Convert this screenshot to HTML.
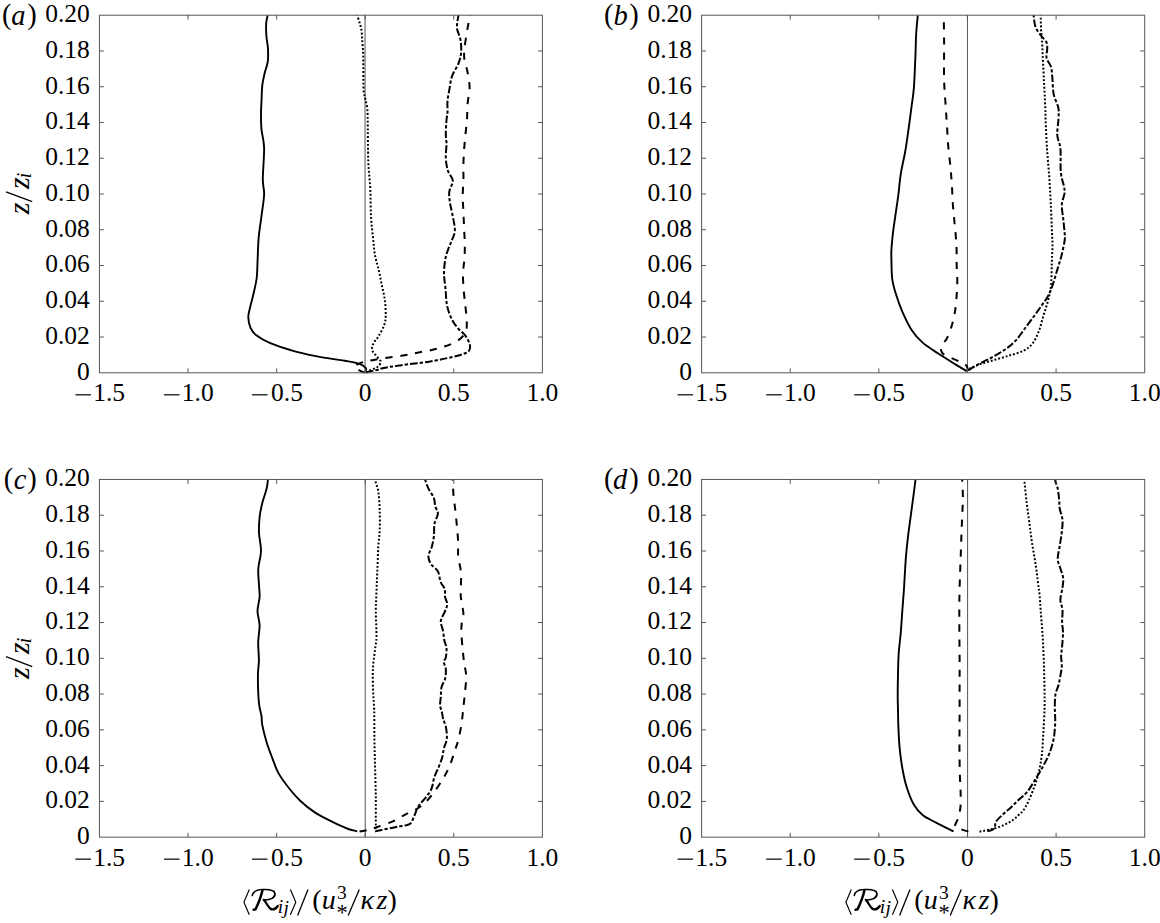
<!DOCTYPE html>
<html><head><meta charset="utf-8"><style>
html,body{margin:0;padding:0;background:#fff;}
svg{display:block;}
.t{font-family:"Liberation Serif",serif;font-size:25.5px;fill:#000;}
</style></head><body>
<svg width="1160" height="923" viewBox="0 0 1160 923">
<rect width="1160" height="923" fill="#fff"/>
<line x1="365.05" y1="15.20" x2="365.05" y2="372.80" stroke="#555" stroke-width="1"/>
<path d="M365.70,370.70 C365.70,370.23 366.73,369.05 365.70,367.90 C364.67,366.75 362.95,365.00 359.50,363.80 C356.05,362.60 348.48,361.35 345.00,360.70 C341.52,360.05 343.45,360.67 338.60,359.90 C333.75,359.13 323.48,357.62 315.90,356.10 C308.32,354.58 300.70,352.95 293.10,350.80 C285.50,348.65 276.37,345.73 270.30,343.20 C264.23,340.67 259.98,338.13 256.70,335.60 C253.42,333.07 252.00,331.03 250.60,328.00 C249.20,324.97 248.42,320.68 248.30,317.40 C248.18,314.12 249.00,312.37 249.90,308.30 C250.80,304.23 252.57,298.05 253.70,293.00 C254.83,287.95 256.07,283.03 256.70,278.00 C257.33,272.97 257.18,269.37 257.50,262.80 C257.82,256.23 257.95,246.30 258.60,238.60 C259.25,230.90 260.48,223.95 261.40,216.60 C262.32,209.25 263.87,200.72 264.10,194.50 C264.33,188.28 262.80,187.12 262.80,179.30 C262.80,171.48 264.32,155.88 264.10,147.60 C263.88,139.32 262.02,135.20 261.50,129.60 C260.98,124.00 261.00,118.77 261.00,114.00 C261.00,109.23 261.28,105.77 261.50,101.00 C261.72,96.23 261.80,89.95 262.30,85.40 C262.80,80.85 263.60,77.60 264.50,73.70 C265.40,69.80 267.12,66.12 267.70,62.00 C268.28,57.88 268.22,53.33 268.00,49.00 C267.78,44.67 266.70,40.33 266.40,36.00 C266.10,31.67 265.98,26.47 266.20,23.00 C266.42,19.53 267.45,16.50 267.70,15.20" fill="none" stroke="#000" stroke-width="1.9" stroke-linejoin="round"/>
<path d="M366.00,372.50 C366.92,372.25 369.50,371.47 371.50,371.00 C373.50,370.53 375.98,370.22 378.00,369.70 C380.02,369.18 379.68,368.65 383.60,367.90 C387.52,367.15 393.72,366.28 401.50,365.20 C409.28,364.12 421.70,362.80 430.30,361.40 C438.90,360.00 447.53,358.07 453.10,356.80 C458.67,355.53 461.05,354.80 463.70,353.80 C466.35,352.80 467.98,352.32 469.00,350.80 C470.02,349.28 470.42,347.23 469.80,344.70 C469.18,342.17 467.32,338.38 465.30,335.60 C463.28,332.82 459.98,330.78 457.70,328.00 C455.42,325.22 453.38,322.68 451.60,318.90 C449.82,315.12 448.02,310.35 447.00,305.30 C445.98,300.25 446.00,293.92 445.50,288.60 C445.00,283.28 444.00,278.47 444.00,273.40 C444.00,268.33 444.73,262.40 445.50,258.20 C446.27,254.00 447.50,251.28 448.60,248.20 C449.70,245.12 451.05,242.75 452.10,239.70 C453.15,236.65 454.90,234.35 454.90,229.90 C454.90,225.45 452.92,217.47 452.10,213.00 C451.28,208.53 450.47,206.63 450.00,203.10 C449.53,199.57 448.83,195.55 449.30,191.80 C449.77,188.05 453.03,184.12 452.80,180.60 C452.57,177.08 449.07,174.47 447.90,170.70 C446.73,166.93 446.03,162.47 445.80,158.00 C445.57,153.53 446.50,147.88 446.50,143.90 C446.50,139.92 445.80,138.08 445.80,134.10 C445.80,130.12 446.22,123.57 446.50,120.00 C446.78,116.43 447.33,115.87 447.50,112.70 C447.67,109.53 447.18,104.90 447.50,101.00 C447.82,97.10 448.65,93.42 449.40,89.30 C450.15,85.18 450.48,80.63 452.00,76.30 C453.52,71.97 456.98,67.20 458.50,63.30 C460.02,59.40 460.77,56.80 461.10,52.90 C461.43,49.00 461.15,43.80 460.50,39.90 C459.85,36.00 457.75,32.32 457.20,29.50 C456.65,26.68 456.98,25.38 457.20,23.00 C457.42,20.62 458.28,16.50 458.50,15.20" fill="none" stroke="#000" stroke-width="2.0" stroke-dasharray="7.6 2.05 3.3 2.05" stroke-linejoin="round"/>
<path d="M365.00,372.60 C364.25,372.33 362.25,371.93 360.50,371.00 C358.75,370.07 354.67,368.27 354.50,367.00 C354.33,365.73 357.58,364.33 359.50,363.40 C361.42,362.47 362.32,362.20 366.00,361.40 C369.68,360.60 375.17,359.62 381.60,358.60 C388.03,357.58 398.25,356.35 404.60,355.30 C410.95,354.25 414.15,353.43 419.70,352.30 C425.25,351.17 431.83,350.27 437.90,348.50 C443.97,346.73 451.53,344.35 456.10,341.70 C460.67,339.05 463.52,335.90 465.30,332.60 C467.08,329.30 466.80,326.45 466.80,321.90 C466.80,317.35 465.82,310.60 465.30,305.30 C464.78,300.00 464.08,295.42 463.70,290.10 C463.32,284.78 462.87,278.72 463.00,273.40 C463.13,268.08 464.20,263.12 464.50,258.20 C464.80,253.28 464.87,248.85 464.80,243.90 C464.73,238.95 464.33,233.90 464.10,228.50 C463.87,223.10 463.63,216.90 463.40,211.50 C463.17,206.10 462.70,201.25 462.70,196.10 C462.70,190.95 463.28,185.77 463.40,180.60 C463.52,175.43 463.28,170.27 463.40,165.10 C463.52,159.93 463.75,154.77 464.10,149.60 C464.45,144.43 465.02,139.17 465.50,134.10 C465.98,129.03 466.65,124.28 467.00,119.20 C467.35,114.12 467.17,108.80 467.60,103.60 C468.03,98.40 469.60,93.20 469.60,88.00 C469.60,82.80 468.47,77.17 467.60,72.40 C466.73,67.63 464.93,63.30 464.40,59.40 C463.87,55.50 464.08,52.90 464.40,49.00 C464.72,45.10 465.65,40.12 466.30,36.00 C466.95,31.88 467.53,27.77 468.30,24.30 C469.07,20.83 470.47,16.72 470.90,15.20" fill="none" stroke="#000" stroke-width="2.0" stroke-dasharray="7.2 7.8" stroke-linejoin="round"/>
<path d="M366.00,372.30 C366.50,372.03 367.35,371.43 369.00,370.70 C370.65,369.97 374.18,368.82 375.90,367.90 C377.62,366.98 378.50,366.23 379.30,365.20 C380.10,364.17 380.58,362.52 380.70,361.70 C380.82,360.88 380.68,361.22 380.00,360.30 C379.32,359.38 377.75,357.57 376.60,356.20 C375.45,354.83 373.85,353.60 373.10,352.10 C372.35,350.60 371.87,348.93 372.10,347.20 C372.33,345.47 373.42,343.53 374.50,341.70 C375.58,339.87 376.98,338.98 378.60,336.20 C380.22,333.42 383.02,328.38 384.20,325.00 C385.38,321.62 385.58,319.95 385.70,315.90 C385.82,311.85 385.53,305.77 384.90,300.70 C384.27,295.63 382.92,290.57 381.90,285.50 C380.88,280.43 379.95,275.35 378.80,270.30 C377.65,265.25 375.95,260.48 375.00,255.20 C374.05,249.92 373.77,245.03 373.10,238.60 C372.43,232.17 371.47,224.87 371.00,216.60 C370.53,208.33 370.75,198.20 370.30,189.00 C369.85,179.80 368.73,172.90 368.30,161.40 C367.87,149.90 367.88,128.90 367.70,120.00 C367.52,111.10 367.58,111.50 367.20,108.00 C366.82,104.50 365.97,101.67 365.40,99.00 C364.83,96.33 364.15,95.17 363.80,92.00 C363.45,88.83 363.38,84.33 363.30,80.00 C363.22,75.67 363.32,70.33 363.30,66.00 C363.28,61.67 363.32,57.48 363.20,54.00 C363.08,50.52 362.78,47.83 362.60,45.10 C362.42,42.37 362.30,40.15 362.10,37.60 C361.90,35.05 361.83,32.33 361.40,29.80 C360.97,27.27 360.20,24.83 359.50,22.40 C358.80,19.97 357.58,16.40 357.20,15.20" fill="none" stroke="#000" stroke-width="2.0" stroke-dasharray="1.9 1.95" stroke-linejoin="round"/>
<rect x="99.45" y="15.2" width="442.95" height="357.60" fill="none" stroke="#555" stroke-width="1"/>
<path d="M99.45,337.04h4.4M542.4,337.04h-4.4M99.45,301.28h4.4M542.4,301.28h-4.4M99.45,265.52h4.4M542.4,265.52h-4.4M99.45,229.76h4.4M542.4,229.76h-4.4M99.45,194.00h4.4M542.4,194.00h-4.4M99.45,158.24h4.4M542.4,158.24h-4.4M99.45,122.48h4.4M542.4,122.48h-4.4M99.45,86.72h4.4M542.4,86.72h-4.4M99.45,50.96h4.4M542.4,50.96h-4.4M188.04,372.8v-4.4M188.04,15.2v4.4M276.63,372.8v-4.4M276.63,15.2v4.4M365.22,372.8v-4.4M365.22,15.2v4.4M453.81,372.8v-4.4M453.81,15.2v4.4" stroke="#555" stroke-width="1" fill="none"/>
<text x="89.85" y="379.70" text-anchor="end" class="t">0</text>
<text x="89.85" y="343.94" text-anchor="end" class="t">0.02</text>
<text x="89.85" y="308.18" text-anchor="end" class="t">0.04</text>
<text x="89.85" y="272.42" text-anchor="end" class="t">0.06</text>
<text x="89.85" y="236.66" text-anchor="end" class="t">0.08</text>
<text x="89.85" y="200.90" text-anchor="end" class="t">0.10</text>
<text x="89.85" y="165.14" text-anchor="end" class="t">0.12</text>
<text x="89.85" y="129.38" text-anchor="end" class="t">0.14</text>
<text x="89.85" y="93.62" text-anchor="end" class="t">0.16</text>
<text x="89.85" y="57.86" text-anchor="end" class="t">0.18</text>
<text x="89.85" y="22.10" text-anchor="end" class="t">0.20</text>
<rect x="75.43" y="394.20" width="15.5" height="1.2" fill="#000"/>
<text x="93.19" y="401.20" class="t">1.5</text>
<rect x="164.01" y="394.20" width="15.5" height="1.2" fill="#000"/>
<text x="181.77" y="401.20" class="t">1.0</text>
<rect x="251.98" y="394.20" width="15.5" height="1.2" fill="#000"/>
<text x="271.00" y="401.20" class="t">0.5</text>
<text x="365.22" y="401.20" text-anchor="middle" class="t">0</text>
<text x="453.81" y="401.20" text-anchor="middle" class="t">0.5</text>
<text x="542.40" y="401.20" text-anchor="middle" class="t">1.0</text>
<line x1="967.45" y1="15.20" x2="967.45" y2="372.80" stroke="#555" stroke-width="1"/>
<path d="M966.60,371.10 C964.67,369.93 959.78,367.07 955.00,364.10 C950.22,361.13 943.33,356.92 937.90,353.30 C932.47,349.68 926.78,346.28 922.40,342.40 C918.02,338.52 914.97,335.17 911.60,330.00 C908.23,324.83 904.80,317.35 902.20,311.40 C899.60,305.45 897.67,299.73 896.00,294.30 C894.33,288.87 892.97,284.75 892.20,278.80 C891.43,272.85 891.53,263.40 891.40,258.60 C891.27,253.80 891.15,254.22 891.40,250.00 C891.65,245.78 892.25,238.93 892.90,233.30 C893.55,227.67 894.38,222.67 895.30,216.20 C896.22,209.73 897.50,201.48 898.40,194.50 C899.30,187.52 899.55,181.55 900.70,174.30 C901.85,167.05 904.00,158.47 905.30,151.00 C906.60,143.53 907.45,136.97 908.50,129.50 C909.55,122.03 910.70,113.18 911.60,106.20 C912.50,99.22 913.27,95.87 913.90,87.60 C914.53,79.33 915.02,65.65 915.40,56.60 C915.78,47.55 915.80,40.17 916.20,33.30 C916.60,26.43 917.53,18.38 917.80,15.40" fill="none" stroke="#000" stroke-width="1.9" stroke-linejoin="round"/>
<path d="M967.80,371.00 C967.70,370.33 967.75,368.17 967.20,367.00 C966.65,365.83 965.75,364.88 964.50,364.00 C963.25,363.12 961.65,362.60 959.70,361.70 C957.75,360.80 955.00,359.58 952.80,358.60 C950.60,357.62 948.13,356.60 946.50,355.80 C944.87,355.00 943.87,354.60 943.00,353.80 C942.13,353.00 941.60,351.97 941.30,351.00 C941.00,350.03 940.83,349.33 941.20,348.00 C941.57,346.67 942.50,344.70 943.50,343.00 C944.50,341.30 945.80,340.75 947.20,337.80 C948.60,334.85 950.60,329.70 951.90,325.30 C953.20,320.90 954.22,316.30 955.00,311.40 C955.78,306.50 956.22,301.08 956.60,295.90 C956.98,290.72 957.30,285.73 957.30,280.30 C957.30,274.87 956.72,268.35 956.60,263.30 C956.48,258.25 956.73,254.48 956.60,250.00 C956.47,245.52 956.20,241.52 955.80,236.40 C955.40,231.28 954.72,225.00 954.20,219.30 C953.68,213.60 953.08,207.88 952.70,202.20 C952.32,196.52 952.28,191.13 951.90,185.20 C951.52,179.27 951.05,173.58 950.40,166.60 C949.75,159.62 948.53,149.48 948.00,143.30 C947.47,137.12 947.58,135.68 947.20,129.50 C946.82,123.32 946.22,114.48 945.70,106.20 C945.18,97.92 944.37,90.67 944.10,79.80 C943.83,68.93 944.17,51.73 944.10,41.00 C944.03,30.27 943.77,19.67 943.70,15.40" fill="none" stroke="#000" stroke-width="2.0" stroke-dasharray="7.2 7.8" stroke-linejoin="round"/>
<path d="M968.30,370.40 C969.45,369.65 971.53,367.92 975.20,365.90 C978.87,363.88 985.25,361.08 990.30,358.30 C995.35,355.52 1001.20,352.23 1005.50,349.20 C1009.80,346.17 1012.82,343.63 1016.10,340.10 C1019.38,336.57 1022.17,332.05 1025.20,328.00 C1028.23,323.95 1031.52,319.60 1034.30,315.80 C1037.08,312.00 1039.62,308.48 1041.90,305.20 C1044.18,301.92 1046.23,299.38 1048.00,296.10 C1049.77,292.82 1050.98,289.80 1052.50,285.50 C1054.02,281.20 1055.58,275.35 1057.10,270.30 C1058.62,265.25 1060.33,260.25 1061.60,255.20 C1062.87,250.15 1064.20,243.75 1064.70,240.00 C1065.20,236.25 1064.85,236.27 1064.60,232.70 C1064.35,229.13 1063.67,223.30 1063.20,218.60 C1062.73,213.90 1061.57,208.73 1061.80,204.50 C1062.03,200.27 1064.25,196.25 1064.60,193.20 C1064.95,190.15 1064.53,189.72 1063.90,186.20 C1063.27,182.68 1061.38,178.43 1060.80,172.10 C1060.22,165.77 1060.98,154.30 1060.40,148.20 C1059.82,142.10 1057.62,140.45 1057.30,135.50 C1056.98,130.55 1058.33,123.17 1058.50,118.50 C1058.67,113.83 1059.10,111.50 1058.30,107.50 C1057.50,103.50 1054.68,99.27 1053.70,94.50 C1052.72,89.73 1052.83,83.45 1052.40,78.90 C1051.97,74.35 1052.07,70.67 1051.10,67.20 C1050.13,63.73 1047.25,61.13 1046.60,58.10 C1045.95,55.07 1047.20,51.60 1047.20,49.00 C1047.20,46.40 1047.57,44.67 1046.60,42.50 C1045.63,40.33 1043.25,38.60 1041.40,36.00 C1039.55,33.40 1036.80,30.37 1035.50,26.90 C1034.20,23.43 1033.92,17.15 1033.60,15.20" fill="none" stroke="#000" stroke-width="2.0" stroke-dasharray="7.6 2.05 3.3 2.05" stroke-linejoin="round"/>
<path d="M969.10,368.90 C970.87,368.15 975.40,365.92 979.70,364.40 C984.00,362.88 989.83,361.32 994.90,359.80 C999.97,358.28 1005.30,356.82 1010.10,355.30 C1014.90,353.78 1019.92,352.73 1023.70,350.70 C1027.48,348.67 1030.27,346.38 1032.80,343.10 C1035.33,339.82 1037.13,335.55 1038.90,331.00 C1040.67,326.45 1041.88,320.85 1043.40,315.80 C1044.92,310.75 1046.73,305.75 1048.00,300.70 C1049.27,295.65 1050.37,291.82 1051.00,285.50 C1051.63,279.18 1051.55,269.55 1051.80,262.80 C1052.05,256.05 1052.47,250.02 1052.50,245.00 C1052.53,239.98 1052.28,239.45 1052.00,232.70 C1051.72,225.95 1051.27,213.90 1050.80,204.50 C1050.33,195.10 1049.83,185.68 1049.20,176.30 C1048.57,166.92 1047.60,157.58 1047.00,148.20 C1046.40,138.82 1045.88,126.78 1045.60,120.00 C1045.32,113.22 1045.57,113.92 1045.30,107.50 C1045.03,101.08 1044.43,90.17 1044.00,81.50 C1043.57,72.83 1043.03,62.43 1042.70,55.50 C1042.37,48.57 1042.27,44.23 1042.00,39.90 C1041.73,35.57 1041.32,33.62 1041.10,29.50 C1040.88,25.38 1040.77,17.58 1040.70,15.20" fill="none" stroke="#000" stroke-width="2.0" stroke-dasharray="1.9 1.95" stroke-linejoin="round"/>
<rect x="701.6" y="15.2" width="443.10" height="357.60" fill="none" stroke="#555" stroke-width="1"/>
<path d="M701.6,337.04h4.4M1144.7,337.04h-4.4M701.6,301.28h4.4M1144.7,301.28h-4.4M701.6,265.52h4.4M1144.7,265.52h-4.4M701.6,229.76h4.4M1144.7,229.76h-4.4M701.6,194.00h4.4M1144.7,194.00h-4.4M701.6,158.24h4.4M1144.7,158.24h-4.4M701.6,122.48h4.4M1144.7,122.48h-4.4M701.6,86.72h4.4M1144.7,86.72h-4.4M701.6,50.96h4.4M1144.7,50.96h-4.4M790.22,372.8v-4.4M790.22,15.2v4.4M878.84,372.8v-4.4M878.84,15.2v4.4M967.46,372.8v-4.4M967.46,15.2v4.4M1056.08,372.8v-4.4M1056.08,15.2v4.4" stroke="#555" stroke-width="1" fill="none"/>
<text x="692.00" y="379.70" text-anchor="end" class="t">0</text>
<text x="692.00" y="343.94" text-anchor="end" class="t">0.02</text>
<text x="692.00" y="308.18" text-anchor="end" class="t">0.04</text>
<text x="692.00" y="272.42" text-anchor="end" class="t">0.06</text>
<text x="692.00" y="236.66" text-anchor="end" class="t">0.08</text>
<text x="692.00" y="200.90" text-anchor="end" class="t">0.10</text>
<text x="692.00" y="165.14" text-anchor="end" class="t">0.12</text>
<text x="692.00" y="129.38" text-anchor="end" class="t">0.14</text>
<text x="692.00" y="93.62" text-anchor="end" class="t">0.16</text>
<text x="692.00" y="57.86" text-anchor="end" class="t">0.18</text>
<text x="692.00" y="22.10" text-anchor="end" class="t">0.20</text>
<rect x="677.58" y="394.20" width="15.5" height="1.2" fill="#000"/>
<text x="695.34" y="401.20" class="t">1.5</text>
<rect x="766.19" y="394.20" width="15.5" height="1.2" fill="#000"/>
<text x="783.95" y="401.20" class="t">1.0</text>
<rect x="854.19" y="394.20" width="15.5" height="1.2" fill="#000"/>
<text x="873.21" y="401.20" class="t">0.5</text>
<text x="967.46" y="401.20" text-anchor="middle" class="t">0</text>
<text x="1056.08" y="401.20" text-anchor="middle" class="t">0.5</text>
<text x="1144.70" y="401.20" text-anchor="middle" class="t">1.0</text>
<line x1="365.20" y1="479.45" x2="365.20" y2="837.15" stroke="#555" stroke-width="1"/>
<path d="M357.20,831.40 C355.50,830.92 351.13,830.08 347.00,828.50 C342.87,826.92 337.77,824.58 332.40,821.90 C327.03,819.22 320.17,815.93 314.80,812.40 C309.43,808.87 304.58,804.85 300.20,800.70 C295.82,796.55 292.15,792.13 288.50,787.50 C284.85,782.87 280.98,777.77 278.30,772.90 C275.62,768.03 274.35,763.42 272.40,758.30 C270.45,753.18 268.30,747.82 266.60,742.20 C264.90,736.58 263.05,728.97 262.20,724.60 C261.35,720.23 262.05,719.65 261.50,716.00 C260.95,712.35 259.50,709.38 258.90,702.70 C258.30,696.02 257.90,682.95 257.90,675.90 C257.90,668.85 258.85,666.03 258.90,660.40 C258.95,654.77 258.08,647.97 258.20,642.10 C258.32,636.23 259.72,630.37 259.60,625.20 C259.48,620.03 257.50,615.80 257.50,611.10 C257.50,606.40 259.35,601.30 259.60,597.00 C259.85,592.70 259.22,590.00 259.00,585.30 C258.78,580.60 257.97,574.53 258.30,568.80 C258.63,563.07 260.88,556.88 261.00,550.90 C261.12,544.92 259.22,538.65 259.00,532.90 C258.78,527.15 259.13,521.45 259.70,516.40 C260.27,511.35 261.25,507.20 262.40,502.60 C263.55,498.00 265.68,492.60 266.60,488.80 C267.52,485.00 267.68,481.30 267.90,479.80" fill="none" stroke="#000" stroke-width="1.9" stroke-linejoin="round"/>
<path d="M376.30,827.50 C376.22,827.17 375.88,830.47 375.80,825.50 C375.72,820.53 375.92,807.20 375.80,797.70 C375.68,788.20 375.33,778.25 375.10,768.50 C374.87,758.75 374.55,748.95 374.40,739.20 C374.25,729.45 374.43,718.43 374.20,710.00 C373.97,701.57 373.20,695.68 373.00,688.60 C372.80,681.52 372.65,674.07 373.00,667.50 C373.35,660.93 374.52,654.37 375.10,649.20 C375.68,644.03 376.38,642.85 376.50,636.50 C376.62,630.15 375.80,618.62 375.80,611.10 C375.80,603.58 376.25,597.98 376.50,591.40 C376.75,584.82 377.00,579.05 377.30,571.60 C377.60,564.15 377.90,553.60 378.30,546.70 C378.70,539.80 379.47,536.40 379.70,530.20 C379.93,524.00 379.93,515.93 379.70,509.50 C379.47,503.07 379.12,496.55 378.30,491.60 C377.48,486.65 375.38,481.77 374.80,479.80" fill="none" stroke="#000" stroke-width="2.0" stroke-dasharray="1.9 1.95" stroke-linejoin="round"/>
<path d="M375.10,831.40 C376.20,831.15 378.17,830.63 381.70,829.90 C385.23,829.17 391.67,827.97 396.30,827.00 C400.93,826.03 406.57,825.80 409.50,824.10 C412.43,822.40 412.43,819.73 413.90,816.80 C415.37,813.87 416.35,809.68 418.30,806.50 C420.25,803.32 423.42,800.62 425.60,797.70 C427.78,794.78 429.95,792.40 431.40,789.00 C432.85,785.60 433.08,780.97 434.30,777.30 C435.52,773.63 437.35,770.42 438.70,767.00 C440.05,763.58 441.53,759.97 442.40,756.80 C443.27,753.63 443.17,750.93 443.90,748.00 C444.63,745.07 446.45,742.62 446.80,739.20 C447.15,735.78 446.62,730.90 446.00,727.50 C445.38,724.10 443.77,721.30 443.10,718.80 C442.43,716.30 442.50,714.72 442.00,712.50 C441.50,710.28 440.30,708.08 440.10,705.50 C439.90,702.92 440.57,700.05 440.80,697.00 C441.03,693.95 440.78,690.25 441.50,687.20 C442.22,684.15 444.38,681.75 445.10,678.70 C445.82,675.65 446.03,671.72 445.80,668.90 C445.57,666.08 443.70,663.68 443.70,661.80 C443.70,659.92 445.33,659.95 445.80,657.60 C446.27,655.25 446.73,650.52 446.50,647.70 C446.27,644.88 444.98,643.52 444.40,640.70 C443.82,637.88 443.60,634.08 443.00,630.80 C442.40,627.52 440.45,624.28 440.80,621.00 C441.15,617.72 444.03,613.92 445.10,611.10 C446.17,608.28 447.20,606.45 447.20,604.10 C447.20,601.75 445.52,599.55 445.10,597.00 C444.68,594.45 445.45,591.30 444.70,588.80 C443.95,586.30 441.73,584.93 440.60,582.00 C439.47,579.07 439.47,574.13 437.90,571.20 C436.33,568.27 432.78,566.88 431.20,564.40 C429.62,561.92 428.30,559.23 428.40,556.30 C428.50,553.37 430.88,550.18 431.80,546.80 C432.72,543.42 433.45,539.83 433.90,536.00 C434.35,532.17 433.83,527.53 434.50,523.80 C435.17,520.07 437.78,516.53 437.90,513.60 C438.02,510.67 435.87,508.80 435.20,506.20 C434.53,503.60 435.03,500.95 433.90,498.00 C432.77,495.05 429.87,491.55 428.40,488.50 C426.93,485.45 425.65,481.17 425.10,479.70" fill="none" stroke="#000" stroke-width="2.0" stroke-dasharray="7.6 2.05 3.3 2.05" stroke-linejoin="round"/>
<path d="M359.50,831.60 C360.95,831.32 365.23,830.67 368.20,829.90 C371.17,829.13 373.10,828.47 377.30,827.00 C381.50,825.53 388.52,823.30 393.40,821.10 C398.28,818.90 402.45,815.98 406.60,813.80 C410.75,811.62 414.90,810.18 418.30,808.00 C421.70,805.82 424.33,803.38 427.00,800.70 C429.67,798.02 431.62,795.57 434.30,791.90 C436.98,788.23 440.53,783.08 443.10,778.70 C445.67,774.32 447.75,770.23 449.70,765.60 C451.65,760.97 453.33,755.30 454.80,750.90 C456.27,746.50 457.40,743.58 458.50,739.20 C459.60,734.82 460.67,729.13 461.40,724.60 C462.13,720.07 462.57,714.95 462.90,712.00 C463.23,709.05 463.08,709.87 463.40,706.90 C463.72,703.93 464.33,699.37 464.80,694.20 C465.27,689.03 466.32,681.07 466.20,675.90 C466.08,670.73 464.68,667.65 464.10,663.20 C463.52,658.75 463.17,654.35 462.70,649.20 C462.23,644.05 461.42,637.00 461.30,632.30 C461.18,627.60 461.65,624.07 462.00,621.00 C462.35,617.93 463.40,616.72 463.40,613.90 C463.40,611.08 462.43,606.92 462.00,604.10 C461.57,601.28 461.02,599.33 460.80,597.00 C460.58,594.67 460.67,594.18 460.70,590.10 C460.73,586.02 461.42,578.13 461.00,572.50 C460.58,566.87 458.67,561.27 458.20,556.30 C457.73,551.33 458.42,547.67 458.20,542.70 C457.98,537.73 457.35,531.68 456.90,526.50 C456.45,521.32 456.07,516.80 455.50,511.60 C454.93,506.40 453.95,500.62 453.50,495.30 C453.05,489.98 452.92,482.30 452.80,479.70" fill="none" stroke="#000" stroke-width="2.0" stroke-dasharray="7.2 7.8" stroke-linejoin="round"/>
<rect x="99.45" y="479.45" width="442.95" height="357.70" fill="none" stroke="#555" stroke-width="1"/>
<path d="M99.45,801.38h4.4M542.4,801.38h-4.4M99.45,765.61h4.4M542.4,765.61h-4.4M99.45,729.84h4.4M542.4,729.84h-4.4M99.45,694.07h4.4M542.4,694.07h-4.4M99.45,658.30h4.4M542.4,658.30h-4.4M99.45,622.53h4.4M542.4,622.53h-4.4M99.45,586.76h4.4M542.4,586.76h-4.4M99.45,550.99h4.4M542.4,550.99h-4.4M99.45,515.22h4.4M542.4,515.22h-4.4M188.04,837.15v-4.4M188.04,479.45v4.4M276.63,837.15v-4.4M276.63,479.45v4.4M365.22,837.15v-4.4M365.22,479.45v4.4M453.81,837.15v-4.4M453.81,479.45v4.4" stroke="#555" stroke-width="1" fill="none"/>
<text x="89.85" y="844.05" text-anchor="end" class="t">0</text>
<text x="89.85" y="808.28" text-anchor="end" class="t">0.02</text>
<text x="89.85" y="772.51" text-anchor="end" class="t">0.04</text>
<text x="89.85" y="736.74" text-anchor="end" class="t">0.06</text>
<text x="89.85" y="700.97" text-anchor="end" class="t">0.08</text>
<text x="89.85" y="665.20" text-anchor="end" class="t">0.10</text>
<text x="89.85" y="629.43" text-anchor="end" class="t">0.12</text>
<text x="89.85" y="593.66" text-anchor="end" class="t">0.14</text>
<text x="89.85" y="557.89" text-anchor="end" class="t">0.16</text>
<text x="89.85" y="522.12" text-anchor="end" class="t">0.18</text>
<text x="89.85" y="486.35" text-anchor="end" class="t">0.20</text>
<rect x="75.43" y="858.55" width="15.5" height="1.2" fill="#000"/>
<text x="93.19" y="865.55" class="t">1.5</text>
<rect x="164.01" y="858.55" width="15.5" height="1.2" fill="#000"/>
<text x="181.77" y="865.55" class="t">1.0</text>
<rect x="251.98" y="858.55" width="15.5" height="1.2" fill="#000"/>
<text x="271.00" y="865.55" class="t">0.5</text>
<text x="365.22" y="865.55" text-anchor="middle" class="t">0</text>
<text x="453.81" y="865.55" text-anchor="middle" class="t">0.5</text>
<text x="542.40" y="865.55" text-anchor="middle" class="t">1.0</text>
<line x1="967.60" y1="479.45" x2="967.60" y2="837.15" stroke="#555" stroke-width="1"/>
<path d="M953.60,831.40 C950.68,829.93 941.22,825.28 936.10,822.60 C930.98,819.92 926.57,818.22 922.90,815.30 C919.23,812.38 916.78,809.73 914.10,805.10 C911.42,800.47 908.75,793.60 906.80,787.50 C904.85,781.40 903.62,775.32 902.40,768.50 C901.18,761.68 900.18,753.92 899.50,746.60 C898.82,739.28 898.55,730.70 898.30,724.60 C898.05,718.50 898.10,714.83 898.00,710.00 C897.90,705.17 897.70,701.52 897.70,695.60 C897.70,689.68 897.83,681.53 898.00,674.50 C898.17,667.47 898.23,660.43 898.70,653.40 C899.17,646.37 900.20,639.35 900.80,632.30 C901.40,625.25 901.78,618.15 902.30,611.10 C902.82,604.05 903.50,595.77 903.90,590.00 C904.30,584.23 904.35,582.13 904.70,576.50 C905.05,570.87 905.43,562.97 906.00,556.20 C906.57,549.43 907.30,542.67 908.10,535.90 C908.90,529.13 909.90,522.37 910.80,515.60 C911.70,508.83 912.72,501.28 913.50,495.30 C914.28,489.32 915.17,482.30 915.50,479.70" fill="none" stroke="#000" stroke-width="1.9" stroke-linejoin="round"/>
<path d="M968.30,831.60 C967.08,831.20 962.97,829.92 961.00,829.20 C959.03,828.48 957.53,827.80 956.50,827.30 C955.47,826.80 955.02,826.62 954.80,826.20 C954.58,825.78 954.73,825.95 955.20,824.80 C955.67,823.65 956.85,821.43 957.60,819.30 C958.35,817.17 959.20,814.37 959.70,812.00 C960.20,809.63 960.45,808.43 960.60,805.10 C960.75,801.77 960.72,796.88 960.60,792.00 C960.48,787.12 960.08,782.15 959.90,775.80 C959.72,769.45 959.57,761.22 959.50,753.90 C959.43,746.58 959.48,738.08 959.50,731.90 C959.52,725.72 959.58,724.02 959.60,716.80 C959.62,709.58 959.60,698.00 959.60,688.60 C959.60,679.20 959.65,672.13 959.60,660.40 C959.55,648.67 959.32,629.47 959.30,618.20 C959.28,606.93 959.35,600.87 959.50,592.80 C959.65,584.73 959.97,576.80 960.20,569.80 C960.43,562.80 960.68,556.90 960.90,550.80 C961.12,544.70 961.28,539.07 961.50,533.20 C961.72,527.33 961.97,521.47 962.20,515.60 C962.43,509.73 962.90,503.98 962.90,498.00 C962.90,492.02 962.32,482.75 962.20,479.70" fill="none" stroke="#000" stroke-width="2.0" stroke-dasharray="7.2 7.8" stroke-linejoin="round"/>
<path d="M979.50,831.70 C980.17,831.57 981.58,831.30 983.50,830.90 C985.42,830.50 988.47,829.93 991.00,829.30 C993.53,828.67 996.25,827.97 998.70,827.10 C1001.15,826.23 1003.45,825.18 1005.70,824.10 C1007.95,823.02 1010.12,822.05 1012.20,820.60 C1014.28,819.15 1016.30,817.17 1018.20,815.40 C1020.10,813.63 1021.85,812.45 1023.60,810.00 C1025.35,807.55 1026.87,804.70 1028.70,800.70 C1030.53,796.70 1032.88,790.88 1034.60,786.00 C1036.32,781.12 1037.78,776.75 1039.00,771.40 C1040.22,766.05 1041.17,760.48 1041.90,753.90 C1042.63,747.32 1042.97,739.22 1043.40,731.90 C1043.83,724.58 1044.30,716.05 1044.50,710.00 C1044.70,703.95 1044.65,701.52 1044.60,695.60 C1044.55,689.68 1044.38,681.53 1044.20,674.50 C1044.02,667.47 1043.80,660.43 1043.50,653.40 C1043.20,646.37 1042.87,639.35 1042.40,632.30 C1041.93,625.25 1041.17,617.32 1040.70,611.10 C1040.23,604.88 1040.03,599.62 1039.60,595.00 C1039.17,590.38 1038.80,588.73 1038.10,583.40 C1037.40,578.07 1036.42,569.78 1035.40,563.00 C1034.38,556.22 1033.02,549.47 1032.00,542.70 C1030.98,535.93 1030.20,529.17 1029.30,522.40 C1028.40,515.63 1027.40,508.87 1026.60,502.10 C1025.80,495.33 1024.85,485.18 1024.50,481.80" fill="none" stroke="#000" stroke-width="2.0" stroke-dasharray="1.9 1.95" stroke-linejoin="round"/>
<path d="M987.30,831.10 C988.03,830.93 990.47,830.63 991.70,830.10 C992.93,829.57 994.12,828.80 994.70,827.90 C995.28,827.00 994.98,825.78 995.20,824.70 C995.42,823.62 994.60,823.22 996.00,821.40 C997.40,819.58 1001.08,816.15 1003.60,813.80 C1006.12,811.45 1008.58,809.65 1011.10,807.30 C1013.62,804.95 1015.98,802.32 1018.70,799.70 C1021.42,797.08 1024.27,795.58 1027.40,791.60 C1030.53,787.62 1034.83,780.13 1037.50,775.80 C1040.17,771.47 1041.45,769.25 1043.40,765.60 C1045.35,761.95 1047.50,758.30 1049.20,753.90 C1050.90,749.50 1052.62,744.08 1053.60,739.20 C1054.58,734.32 1054.85,728.63 1055.10,724.60 C1055.35,720.57 1055.15,718.18 1055.10,715.00 C1055.05,711.82 1054.73,708.97 1054.80,705.50 C1054.87,702.03 1054.92,697.48 1055.50,694.20 C1056.08,690.92 1057.53,688.62 1058.30,685.80 C1059.07,682.98 1059.52,680.58 1060.10,677.30 C1060.68,674.02 1061.63,669.62 1061.80,666.10 C1061.97,662.58 1061.05,659.50 1061.10,656.20 C1061.15,652.90 1061.78,650.28 1062.10,646.30 C1062.42,642.32 1063.00,636.28 1063.00,632.30 C1063.00,628.32 1062.18,626.17 1062.10,622.40 C1062.02,618.63 1062.78,613.45 1062.50,609.70 C1062.22,605.95 1060.40,603.62 1060.40,599.90 C1060.40,596.18 1062.03,591.05 1062.50,587.40 C1062.97,583.75 1063.55,581.15 1063.20,578.00 C1062.85,574.85 1061.32,571.67 1060.40,568.50 C1059.48,565.33 1057.80,562.85 1057.70,559.00 C1057.60,555.15 1059.12,549.92 1059.80,545.40 C1060.48,540.88 1061.35,536.18 1061.80,531.90 C1062.25,527.62 1062.83,523.53 1062.50,519.70 C1062.17,515.87 1060.37,512.28 1059.80,508.90 C1059.23,505.52 1059.45,502.80 1059.10,499.40 C1058.75,496.00 1058.42,491.72 1057.70,488.50 C1056.98,485.28 1055.28,481.50 1054.80,480.10" fill="none" stroke="#000" stroke-width="2.0" stroke-dasharray="7.6 2.05 3.3 2.05" stroke-linejoin="round"/>
<rect x="701.6" y="479.45" width="443.10" height="357.70" fill="none" stroke="#555" stroke-width="1"/>
<path d="M701.6,801.38h4.4M1144.7,801.38h-4.4M701.6,765.61h4.4M1144.7,765.61h-4.4M701.6,729.84h4.4M1144.7,729.84h-4.4M701.6,694.07h4.4M1144.7,694.07h-4.4M701.6,658.30h4.4M1144.7,658.30h-4.4M701.6,622.53h4.4M1144.7,622.53h-4.4M701.6,586.76h4.4M1144.7,586.76h-4.4M701.6,550.99h4.4M1144.7,550.99h-4.4M701.6,515.22h4.4M1144.7,515.22h-4.4M790.22,837.15v-4.4M790.22,479.45v4.4M878.84,837.15v-4.4M878.84,479.45v4.4M967.46,837.15v-4.4M967.46,479.45v4.4M1056.08,837.15v-4.4M1056.08,479.45v4.4" stroke="#555" stroke-width="1" fill="none"/>
<text x="692.00" y="844.05" text-anchor="end" class="t">0</text>
<text x="692.00" y="808.28" text-anchor="end" class="t">0.02</text>
<text x="692.00" y="772.51" text-anchor="end" class="t">0.04</text>
<text x="692.00" y="736.74" text-anchor="end" class="t">0.06</text>
<text x="692.00" y="700.97" text-anchor="end" class="t">0.08</text>
<text x="692.00" y="665.20" text-anchor="end" class="t">0.10</text>
<text x="692.00" y="629.43" text-anchor="end" class="t">0.12</text>
<text x="692.00" y="593.66" text-anchor="end" class="t">0.14</text>
<text x="692.00" y="557.89" text-anchor="end" class="t">0.16</text>
<text x="692.00" y="522.12" text-anchor="end" class="t">0.18</text>
<text x="692.00" y="486.35" text-anchor="end" class="t">0.20</text>
<rect x="677.58" y="858.55" width="15.5" height="1.2" fill="#000"/>
<text x="695.34" y="865.55" class="t">1.5</text>
<rect x="766.19" y="858.55" width="15.5" height="1.2" fill="#000"/>
<text x="783.95" y="865.55" class="t">1.0</text>
<rect x="854.19" y="858.55" width="15.5" height="1.2" fill="#000"/>
<text x="873.21" y="865.55" class="t">0.5</text>
<text x="967.46" y="865.55" text-anchor="middle" class="t">0</text>
<text x="1056.08" y="865.55" text-anchor="middle" class="t">0.5</text>
<text x="1144.70" y="865.55" text-anchor="middle" class="t">1.0</text>
<text x="1.95" y="23.77" font-family='"Liberation Serif",serif' font-size="28.5">(</text>
<text x="11.25" y="24.71" font-family='"Liberation Serif",serif' font-size="28.5" font-style="italic">a</text>
<text x="27.18" y="23.77" font-family='"Liberation Serif",serif' font-size="28.5">)</text>
<text x="603.90" y="23.77" font-family='"Liberation Serif",serif' font-size="28.5">(</text>
<text x="613.49" y="24.72" font-family='"Liberation Serif",serif' font-size="28.5" font-style="italic">b</text>
<text x="629.13" y="23.77" font-family='"Liberation Serif",serif' font-size="28.5">)</text>
<text x="3.85" y="488.07" font-family='"Liberation Serif",serif' font-size="28.5">(</text>
<text x="13.72" y="489.02" font-family='"Liberation Serif",serif' font-size="28.5" font-style="italic">c</text>
<text x="27.18" y="488.07" font-family='"Liberation Serif",serif' font-size="28.5">)</text>
<text x="603.90" y="488.07" font-family='"Liberation Serif",serif' font-size="28.5">(</text>
<text x="613.09" y="489.01" font-family='"Liberation Serif",serif' font-size="28.5" font-style="italic">d</text>
<text x="629.13" y="488.07" font-family='"Liberation Serif",serif' font-size="28.5">)</text>
<g transform="translate(28.4,193.5) rotate(-90)">
<text x="-20.66" y="0.20" font-family='"Liberation Serif",serif' font-size="30" font-style="italic">z</text>
<line x1="-8.20" y1="3.80" x2="1.70" y2="-22.40" stroke="#000" stroke-width="1.25"/>
<text x="4.44" y="0.40" font-family='"Liberation Serif",serif' font-size="30" font-style="italic">z</text>
<text x="15.19" y="2.80" font-family='"Liberation Serif",serif' font-size="20" font-style="italic">i</text>
</g>
<g transform="translate(28.4,658.4) rotate(-90)">
<text x="-20.66" y="0.20" font-family='"Liberation Serif",serif' font-size="30" font-style="italic">z</text>
<line x1="-8.20" y1="3.80" x2="1.70" y2="-22.40" stroke="#000" stroke-width="1.25"/>
<text x="4.44" y="0.40" font-family='"Liberation Serif",serif' font-size="30" font-style="italic">z</text>
<text x="15.19" y="2.80" font-family='"Liberation Serif",serif' font-size="20" font-style="italic">i</text>
</g>
<polyline points="249.3,889.6 243.9,902.2 249.3,914.8" fill="none" stroke="#000" stroke-width="1.15"/>
<polyline points="290.4,889.6 295.8,902.2 290.4,914.8" fill="none" stroke="#000" stroke-width="1.15"/>
<g transform="translate(0,0)"><path d="M252.2,895.6 C252.8,892.2 256.5,889.9 261.5,889.6 C267.5,889.1 274.2,889.3 275,893.6 C275.6,897.6 270.5,900.2 263.8,899.9" fill="none" stroke="#000" stroke-width="1.5" stroke-linecap="round"/>
<path d="M273.6,890.8 C275.6,893 275,896.5 272,898.4" fill="none" stroke="#000" stroke-width="1.4"/>
<path d="M262.4,890.6 C261.2,896 258.6,903 255.6,909.3 L253.6,909.8" fill="none" stroke="#000" stroke-width="2.5" stroke-linecap="round" stroke-linejoin="round"/>
<path d="M263.8,899.9 C266,902 267.6,906.4 270.2,908.5 C272.6,910.2 275.6,909 277.8,906" fill="none" stroke="#000" stroke-width="2.3" stroke-linecap="round"/></g>
<text x="277.71" y="913.20" font-family='"Liberation Serif",serif' font-size="19.5" font-style="italic">i</text>
<text x="283.49" y="913.85" font-family='"Liberation Serif",serif' font-size="19.5" font-style="italic">j</text>
<line x1="308" y1="889.6" x2="297.6" y2="915.5" stroke="#000" stroke-width="1.3"/>
<text x="312.37" y="908.83" font-family='"Liberation Serif",serif' font-size="28">(</text>
<text x="321.81" y="909.07" font-family='"Liberation Serif",serif' font-size="28" font-style="italic">u</text>
<text x="337.07" y="898.51" font-family='"Liberation Serif",serif' font-size="19.5">3</text>
<text x="336.50" y="919.73" font-family='"Liberation Serif",serif' font-size="22.5">*</text>
<line x1="359.3" y1="889.6" x2="348.2" y2="915.5" stroke="#000" stroke-width="1.3"/>
<text x="360.57" y="909.30" font-family='"Liberation Serif",serif' font-size="28" font-style="italic">κ</text>
<text x="376.51" y="909.30" font-family='"Liberation Serif",serif' font-size="28" font-style="italic">z</text>
<text x="387.50" y="908.83" font-family='"Liberation Serif",serif' font-size="28">)</text>
<polyline points="851.3,889.6 845.9,902.2 851.3,914.8" fill="none" stroke="#000" stroke-width="1.15"/>
<polyline points="892.4,889.6 897.8,902.2 892.4,914.8" fill="none" stroke="#000" stroke-width="1.15"/>
<g transform="translate(602.0,0)"><path d="M252.2,895.6 C252.8,892.2 256.5,889.9 261.5,889.6 C267.5,889.1 274.2,889.3 275,893.6 C275.6,897.6 270.5,900.2 263.8,899.9" fill="none" stroke="#000" stroke-width="1.5" stroke-linecap="round"/>
<path d="M273.6,890.8 C275.6,893 275,896.5 272,898.4" fill="none" stroke="#000" stroke-width="1.4"/>
<path d="M262.4,890.6 C261.2,896 258.6,903 255.6,909.3 L253.6,909.8" fill="none" stroke="#000" stroke-width="2.5" stroke-linecap="round" stroke-linejoin="round"/>
<path d="M263.8,899.9 C266,902 267.6,906.4 270.2,908.5 C272.6,910.2 275.6,909 277.8,906" fill="none" stroke="#000" stroke-width="2.3" stroke-linecap="round"/></g>
<text x="879.71" y="913.20" font-family='"Liberation Serif",serif' font-size="19.5" font-style="italic">i</text>
<text x="885.49" y="913.85" font-family='"Liberation Serif",serif' font-size="19.5" font-style="italic">j</text>
<line x1="910.0" y1="889.6" x2="899.6" y2="915.5" stroke="#000" stroke-width="1.3"/>
<text x="914.37" y="908.83" font-family='"Liberation Serif",serif' font-size="28">(</text>
<text x="923.81" y="909.07" font-family='"Liberation Serif",serif' font-size="28" font-style="italic">u</text>
<text x="939.07" y="898.51" font-family='"Liberation Serif",serif' font-size="19.5">3</text>
<text x="938.50" y="919.73" font-family='"Liberation Serif",serif' font-size="22.5">*</text>
<line x1="961.3" y1="889.6" x2="950.2" y2="915.5" stroke="#000" stroke-width="1.3"/>
<text x="962.57" y="909.30" font-family='"Liberation Serif",serif' font-size="28" font-style="italic">κ</text>
<text x="978.51" y="909.30" font-family='"Liberation Serif",serif' font-size="28" font-style="italic">z</text>
<text x="989.50" y="908.83" font-family='"Liberation Serif",serif' font-size="28">)</text>
</svg></body></html>
